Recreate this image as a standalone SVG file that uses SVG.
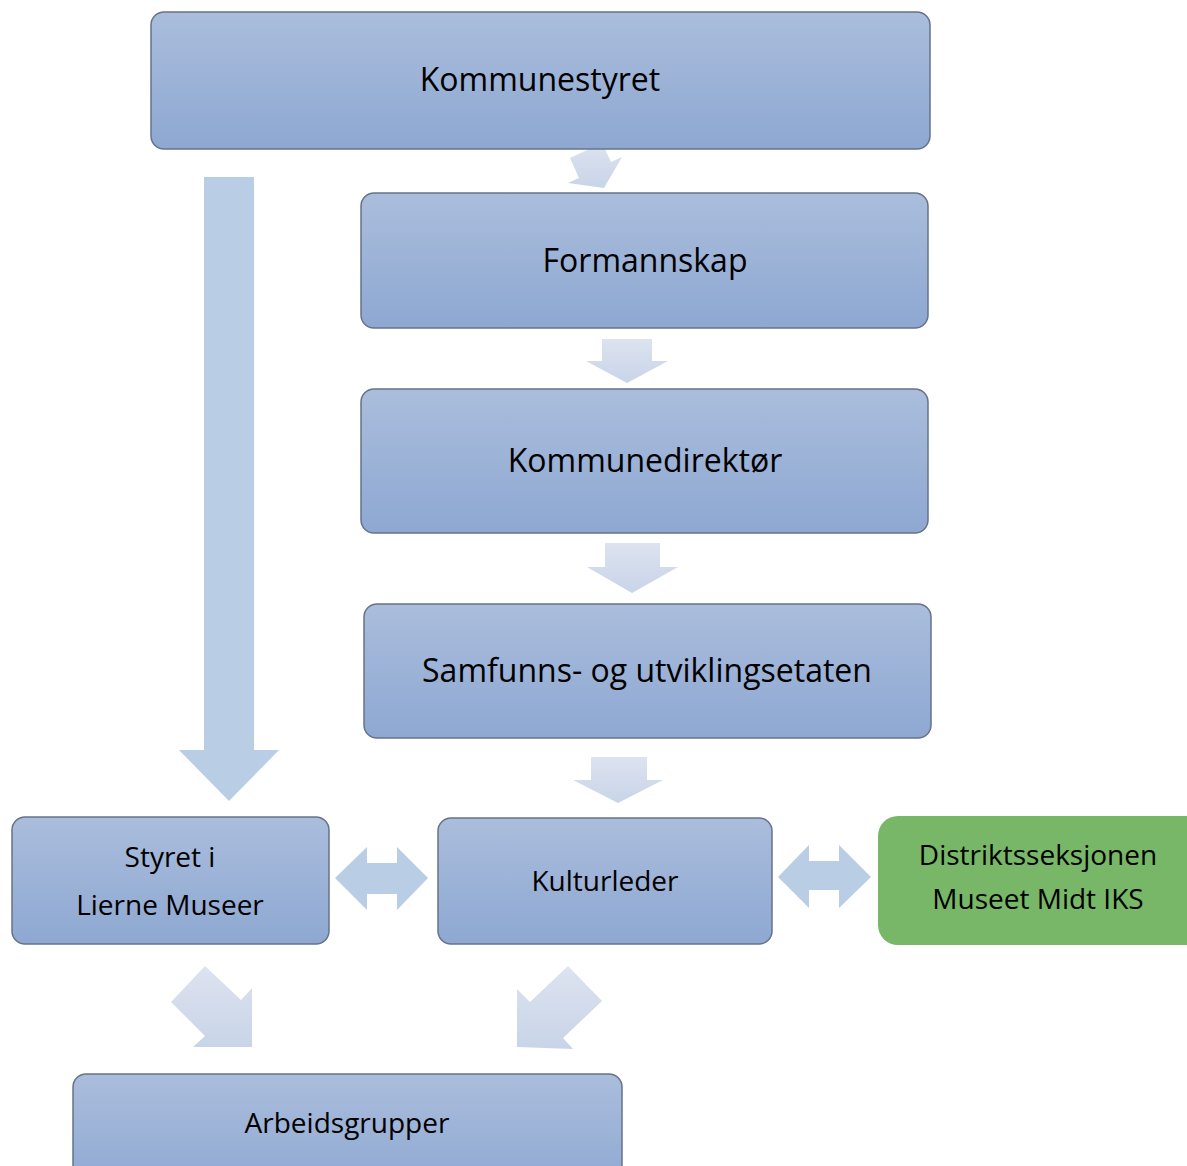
<svg xmlns="http://www.w3.org/2000/svg" width="1187" height="1166" viewBox="0 0 1187 1166">
<defs>
<linearGradient id="boxg" x1="0" y1="0" x2="0" y2="1">
<stop offset="0" stop-color="#AABDDC"/>
<stop offset="1" stop-color="#8EA8D2"/>
</linearGradient>
<linearGradient id="arrg" x1="0" y1="0" x2="0" y2="1">
<stop offset="0" stop-color="#DDE3EF"/>
<stop offset="1" stop-color="#C8D4E8"/>
</linearGradient>
<style>
.box{fill:url(#boxg);stroke:#66738A;stroke-width:1.5}
.t{font-family:"Open Sans","Liberation Sans",sans-serif;fill:#000;text-anchor:middle}
.big{font-size:32px}
.sm{font-size:28px}
.solid{fill:#B9CDE5}
.grad{fill:url(#arrg)}
</style>
</defs>
<rect width="1187" height="1166" fill="#fff"/>
<g id="connectors">
<polygon class="solid" points="204,177 254,177 254,750 279,750 229,801 179,750 204,750"/>
<polygon class="grad" points="570,158 602,143 611,162 622,157 604,188 568,183 579,178"/>
<polygon class="grad" points="602,339 652,339 652,361 668,361 627,383 586,361 602,361"/>
<polygon class="grad" points="605,543 660,543 660,567 678,567 632,593 587,567 605,567"/>
<polygon class="grad" points="591,757 647,757 647,780 663,780 618,803 573,780 591,780"/>
<polygon class="solid" points="335,878 367,847 367,863 397,863 397,847 428,878 397,910 397,894 367,894 367,910"/>
<polygon class="solid" points="778,877 809,845 809,861 839,861 839,845 871,877 839,908 839,890 809,890 809,908"/>
<polygon class="grad" points="252,1047 193,1047 205,1036 171,1002 205,966 241,1000 252,988"/>
<polygon class="grad" points="517,1047 517,989 530,1002 568,966 602,1001 563,1038 573,1049"/>
</g>
<g id="kommunestyret">
<rect class="box" x="151" y="12" width="779" height="137" rx="13"/>
<text class="t big" x="540" y="91">Kommunestyret</text>
</g>
<g id="formannskap">
<rect class="box" x="361" y="193" width="567" height="135" rx="13"/>
<text class="t big" x="645" y="272">Formannskap</text>
</g>
<g id="kommunedirektor">
<rect class="box" x="361" y="389" width="567" height="144" rx="13"/>
<text class="t big" x="645" y="472">Kommunedirektør</text>
</g>
<g id="samfunns">
<rect class="box" x="364" y="604" width="567" height="134" rx="13"/>
<text class="t big" x="647" y="682">Samfunns- og utviklingsetaten</text>
</g>
<g id="styret">
<rect class="box" x="12" y="817" width="317" height="127" rx="13"/>
<text class="t sm" x="170" y="867">Styret i</text>
<text class="t sm" x="170" y="915">Lierne Museer</text>
</g>
<g id="kulturleder">
<rect class="box" x="438" y="818" width="334" height="126" rx="13"/>
<text class="t sm" x="605" y="891">Kulturleder</text>
</g>
<g id="distrikt">
<rect x="878" y="816" width="330" height="129" rx="20" fill="#77B767"/>
<text class="t sm" x="1038" y="865">Distriktsseksjonen</text>
<text class="t sm" x="1038" y="909">Museet Midt IKS</text>
</g>
<g id="arbeidsgrupper">
<rect class="box" x="73" y="1074" width="549" height="120" rx="13"/>
<text class="t sm" x="347" y="1133">Arbeidsgrupper</text>
</g>
</svg>
